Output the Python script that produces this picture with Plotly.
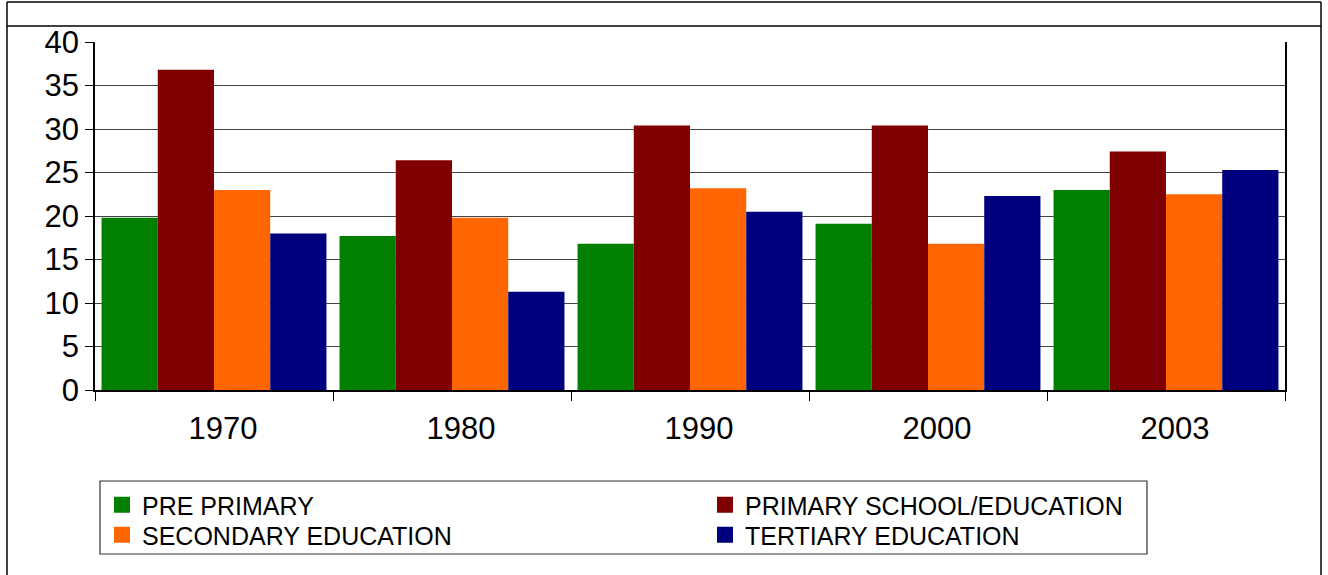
import plotly.graph_objects as go

years = ["1970", "1980", "1990", "2000", "2003"]
pre_primary = [19.8, 17.7, 16.8, 19.1, 23.0]
primary = [36.8, 26.4, 30.4, 30.4, 27.4]
secondary = [23.0, 19.8, 23.2, 16.8, 22.5]
tertiary = [18.0, 11.3, 20.5, 22.3, 25.3]

names = ["PRE PRIMARY", "PRIMARY SCHOOL/EDUCATION", "SECONDARY EDUCATION", "TERTIARY EDUCATION"]
colors = ["#007f00", "#7f0000", "#ff6600", "#00007f"]
series = [pre_primary, primary, secondary, tertiary]
legend_ids = ["legend", "legend2", "legend3", "legend4"]

FONT = "Liberation Sans, Arial, sans-serif"

L, R, T, B = 95, 43, 42, 185
W, H = 1328, 575
pw, ph = W - L - R, H - T - B


def px(x):
    return (x - L) / pw


def py(y):
    return (H - B - y) / ph


fig = go.Figure()
for name, col, vals in zip(names, colors, series):
    fig.add_trace(go.Bar(x=years, y=vals, name=name, showlegend=False,
                         marker=dict(color=col, line=dict(width=0))))
# legend entries (square swatches)
for name, col, lg in zip(names, colors, legend_ids):
    fig.add_trace(go.Scatter(x=[None], y=[None], mode="markers", name=name, legend=lg,
                             marker=dict(symbol="square", size=16, color=col, line=dict(width=0))))

shapes = [
    dict(type="line", xref="paper", yref="paper", x0=px(7), x1=px(7), y0=py(2), y1=py(575), line=dict(color="#000", width=1.5)),
    dict(type="line", xref="paper", yref="paper", x0=px(1321), x1=px(1321), y0=py(2), y1=py(575), line=dict(color="#000", width=1.5)),
    dict(type="line", xref="paper", yref="paper", x0=px(7), x1=px(1321), y0=py(2), y1=py(2), line=dict(color="#000", width=1.5)),
    dict(type="line", xref="paper", yref="paper", x0=px(7), x1=px(1321), y0=py(26), y1=py(26), line=dict(color="#000", width=1.5)),
    dict(type="rect", xref="paper", yref="paper", x0=px(100), x1=px(1147), y0=py(554), y1=py(481), line=dict(color="#333", width=1.2)),
]

leg_common = dict(xanchor="left", yanchor="middle", font=dict(size=25, family=FONT),
                  bgcolor="rgba(0,0,0,0)", borderwidth=0, itemwidth=30, orientation="v",
                  itemsizing="trace")
leg_pos = [(102, 505), (705, 505), (102, 535), (705, 535)]
legend_layout = {}
for lg, (lx, ly) in zip(legend_ids, leg_pos):
    legend_layout[lg] = dict(x=px(lx), y=py(ly), **leg_common)

fig.update_layout(
    width=W, height=H,
    margin=dict(l=L, r=R, t=T, b=B, autoexpand=False),
    paper_bgcolor="white", plot_bgcolor="white",
    barmode="group", bargap=0.055, bargroupgap=0,
    font=dict(family=FONT, color="#000"),
    shapes=shapes,
    showlegend=True,
    xaxis=dict(type="category", tickson="boundaries", ticks="outside", ticklen=9, tickcolor="#000",
               showline=True, linecolor="#000", linewidth=1.5, showgrid=False,
               tickfont=dict(size=31, family=FONT), ticklabelstandoff=10, ticklabelshift=9),
    yaxis=dict(range=[0, 40], dtick=5, tick0=0, ticks="outside", ticklen=8, tickcolor="#000",
               showline=True, linecolor="#000", linewidth=1.5, mirror=True,
               showgrid=True, gridcolor="#444", gridwidth=1.3, zeroline=False,
               tickfont=dict(size=31, family=FONT)),
    **legend_layout,
)

fig.write_html("out.html", config={"displayModeBar": False},
               post_script="document.body.style.margin='0px';document.body.style.padding='0px';")
